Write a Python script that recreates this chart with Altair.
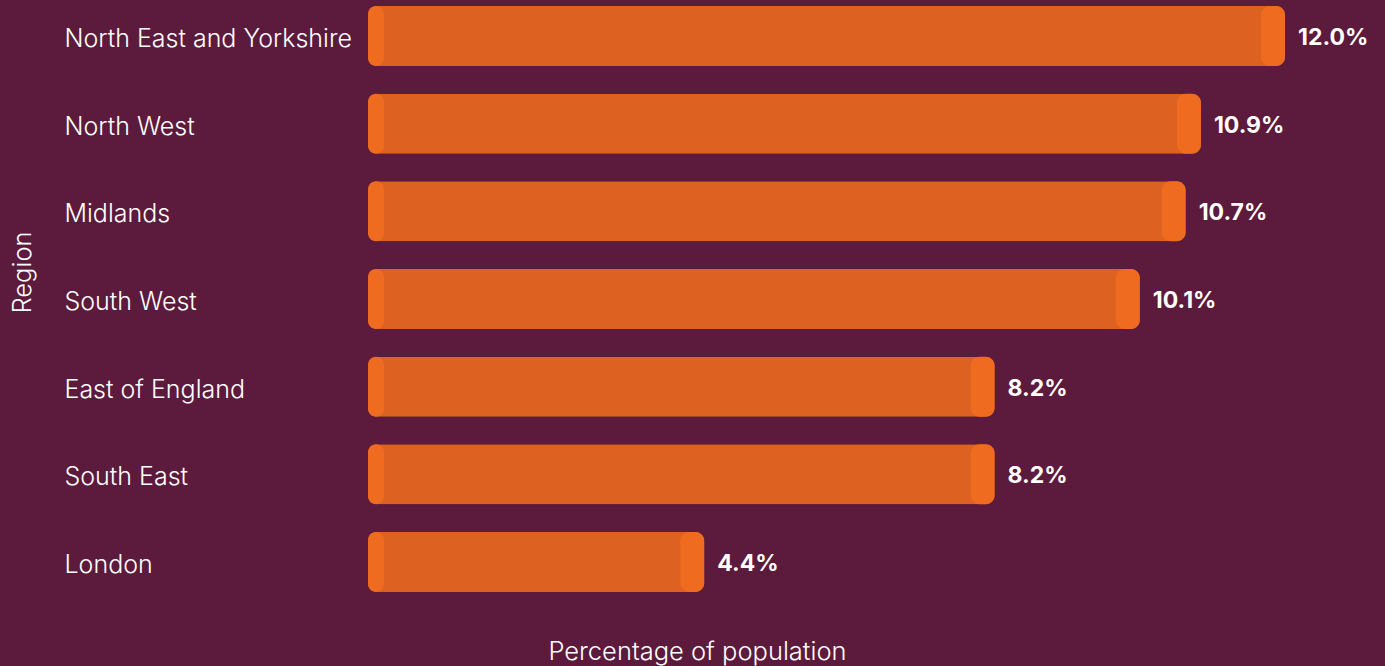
import altair as alt
import pandas as pd

regions = ["North East and Yorkshire", "North West", "Midlands", "South West",
           "East of England", "South East", "London"]
values = [12.0, 10.9, 10.7, 10.1, 8.2, 8.2, 4.4]
labels = ["12.0%", "10.9%", "10.7%", "10.1%", "8.2%", "8.2%", "4.4%"]

df = pd.DataFrame({"region": regions, "value": values, "label": labels})

BG = "#5c1a3c"
BODY = "#dd6222"
CAP = "#ee6b1f"
FONT = "Inter"

y = alt.Y("region:N", sort=regions,
          scale=alt.Scale(paddingInner=0.315, paddingOuter=0.068),
          axis=alt.Axis(title="Region", ticks=False, domain=False, labelPadding=304,
                        labelAlign="left", labelLimit=340, labelFontSize=25,
                        labelOffset=3,
                        labelColor="white", labelFont=FONT, labelFontWeight=300,
                        titleFont=FONT, titleFontSize=25.5, titleFontWeight=300,
                        titleColor="white", titleX=-346, titleY=272,
                        titleAlign="center", titleBaseline="middle", titleAngle=-90))
x = alt.X("value:Q", scale=alt.Scale(domain=[0, 12], nice=False, zero=True),
          axis=alt.Axis(title="Percentage of population", labels=False, ticks=False,
                        domain=False, grid=False, titleFont=FONT, titleFontSize=25.5,
                        titleFontWeight=300, titleColor="white", titleX=329, titleY=53,
                        titleAlign="center", titleBaseline="middle"))

base = alt.Chart(df)

body = base.mark_bar(color=BODY, cornerRadius=9).encode(x=x, y=y)
left_cap = base.mark_bar(color=CAP, cornerRadius=9, x2Offset=16).encode(
    x=alt.X("zero:Q"), x2="zero:Q", y=alt.Y("region:N", sort=regions)
).transform_calculate(zero="0")
right_cap = base.mark_bar(color=CAP, cornerRadius=9, xOffset=-24).encode(
    x="value:Q", x2="value:Q", y=alt.Y("region:N", sort=regions))
text = base.mark_text(align="left", baseline="middle", dx=13, dy=2, font=FONT,
                      fontSize=23, fontWeight="bold", color="white").encode(
    x="value:Q", y=alt.Y("region:N", sort=regions), text="label:N")

chart = alt.layer(body, left_cap, right_cap, text).properties(
    width=917, height=598, background=BG,
    padding={"left": 368, "top": 0, "right": 100, "bottom": 68},
    autosize=alt.AutoSizeParams(type="none")
).configure_view(stroke=None)

chart.save("out.html", embed_options={"renderer": "svg", "actions": False})
